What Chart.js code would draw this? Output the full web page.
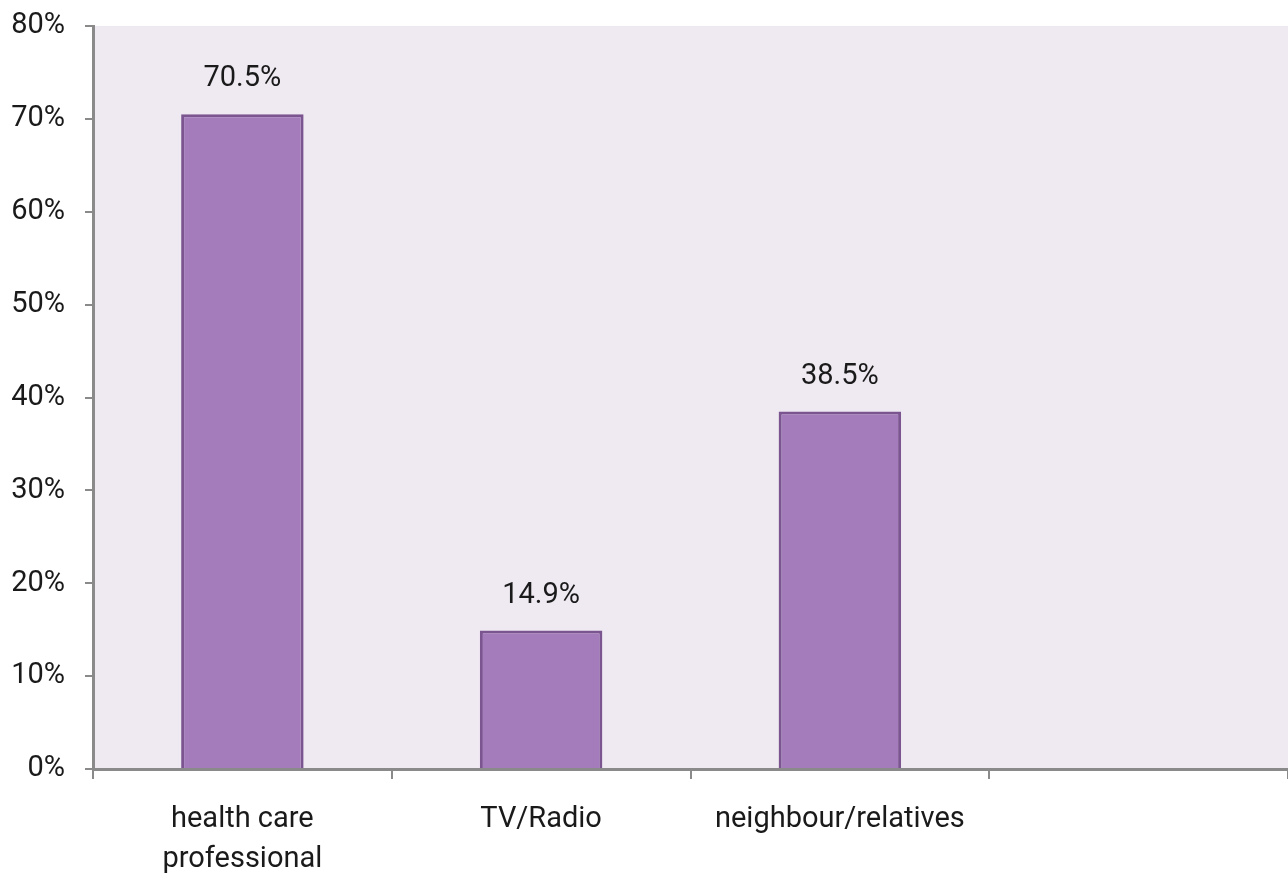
<!DOCTYPE html>
<html>
<head>
<meta charset="utf-8">
<script src="https://cdn.jsdelivr.net/npm/chart.js@4"></script>
<style>
  body { margin: 0; background: #fff; }
  #wrap { width: 1288px; height: 875px; }
</style>
</head>
<body>
<div id="wrap"><canvas id="canvas"></canvas></div>
<script>
var categories = [['health care', 'professional'], 'TV/Radio', 'neighbour/relatives', ''];
var shares = [70.5, 14.9, 38.5, null];
var yTicks = [0, 10, 20, 30, 40, 50, 60, 70, 80];

var fontFamily = 'Roboto, sans-serif';
var axisGray = '#8a8a8a';

// plot area background
var plotBg = {
  id: 'plotBg',
  beforeDraw: function(chart) {
    var a = chart.chartArea, ctx = chart.ctx;
    ctx.save();
    ctx.fillStyle = '#efe9f2';
    ctx.fillRect(a.left, a.top, a.right - a.left, a.bottom - a.top);
    ctx.restore();
  }
};

// value labels above bars
var valueLabels = {
  id: 'valueLabels',
  afterDatasetsDraw: function(chart) {
    var ctx = chart.ctx;
    var meta = chart.getDatasetMeta(0);
    ctx.save();
    ctx.fillStyle = '#1a1a1a';
    ctx.font = '29px ' + fontFamily;
    ctx.textAlign = 'center';
    ctx.textBaseline = 'middle';
    meta.data.forEach(function(bar, i) {
      if (shares[i] == null) return;
      ctx.fillText(shares[i].toFixed(1) + '%', bar.x, bar.y - 35);
    });
    ctx.restore();
  }
};

new Chart(document.getElementById('canvas'), {
  type: 'bar',
  data: {
    labels: categories,
    datasets: [{
      data: shares,
      backgroundColor: '#a47bbb',
      borderColor: '#7a5590',
      borderWidth: 3,
      borderSkipped: 'bottom',
      barPercentage: 0.41,
      categoryPercentage: 1
    }]
  },
  plugins: [plotBg, valueLabels],
  options: {
    responsive: true,
    maintainAspectRatio: false,
    animation: false,
    layout: { padding: { top: 26, right: 0, left: 0, bottom: 0 } },
    plugins: { legend: { display: false }, tooltip: { enabled: false } },
    scales: {
      x: {
        grid: { display: true, drawOnChartArea: false, drawTicks: true, tickLength: 10, color: axisGray, lineWidth: 2, offset: true },
        border: { color: axisGray, width: 3 },
        ticks: { color: '#1a1a1a', font: { family: fontFamily, size: 29, lineHeight: 1.4 }, padding: 20, maxRotation: 0, autoSkip: false },
        afterFit: function(s) { s.height = 106; s.paddingLeft = 0; s.paddingRight = 0; }
      },
      y: {
        min: 0,
        max: 80,
        afterBuildTicks: function(s) { s.ticks = yTicks.map(function(v) { return { value: v }; }); },
        grid: { display: true, drawOnChartArea: false, drawTicks: true, tickLength: 8, color: axisGray, lineWidth: 2 },
        border: { color: axisGray, width: 3 },
        ticks: { color: '#1a1a1a', font: { family: fontFamily, size: 29 }, padding: 20,
          callback: function(v) { return v + '%'; } },
        afterFit: function(s) { s.width = 93; s.paddingTop = 0; s.paddingBottom = 0; }
      }
    }
  }
});
</script>
</body>
</html>
